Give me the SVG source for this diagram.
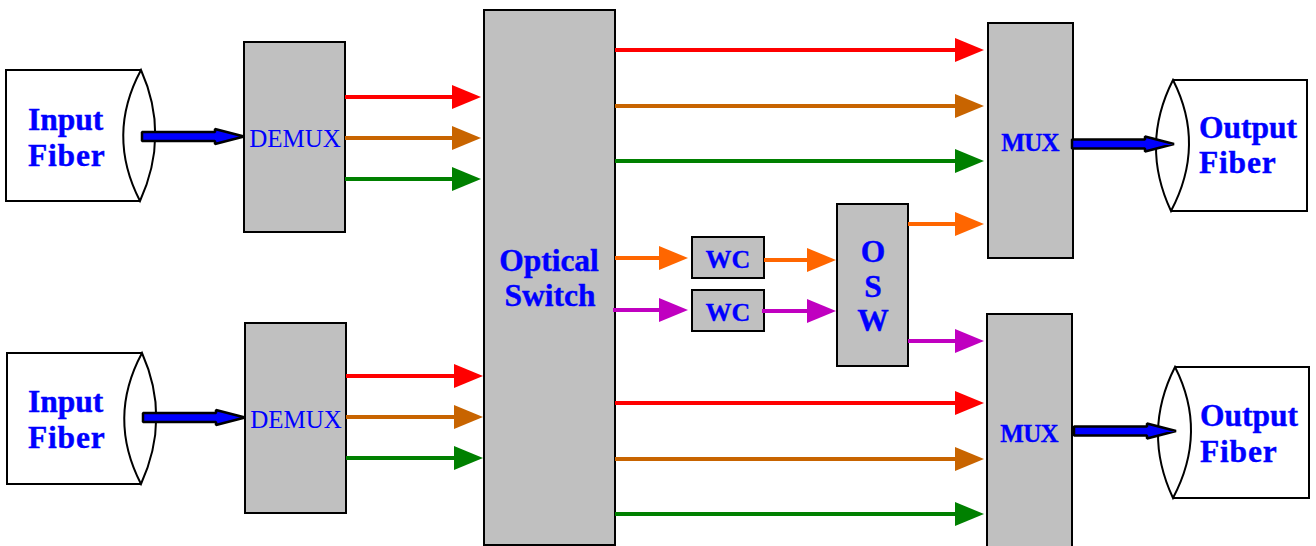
<svg xmlns="http://www.w3.org/2000/svg" width="1316" height="546" viewBox="0 0 1316 546">
<style>
.box{fill:#c0c0c0;stroke:#000;stroke-width:2}
.fiber{fill:#fff;stroke:#000;stroke-width:2}
.lens{fill:none;stroke:#000;stroke-width:2}
.t{font-family:"Liberation Serif","Times New Roman",serif;fill:#0000ff;text-anchor:middle}
.l{text-anchor:start}
.b{font-weight:bold;stroke:#0000ff;stroke-width:.3}
.big{font-size:31.500px;font-weight:bold;stroke:#0000ff;stroke-width:.4}
.w{stroke-width:4;fill:none}
.blue{fill:#0000ff;stroke:#000;stroke-width:2.500;stroke-linejoin:bevel}
.hr{fill:#ff0000}.hb{fill:#c86400}.hg{fill:#008000}.ho{fill:#ff6600}.hm{fill:#c000c0}
.sr{stroke:#ff0000}.sb{stroke:#c86400}.sg{stroke:#008000}.so{stroke:#ff6600}.sm{stroke:#c000c0}
</style>
<defs>
<marker id="r" markerUnits="userSpaceOnUse" markerWidth="30" markerHeight="24" refX="1" refY="12" orient="auto"><path class="hr" d="M0 0L29 12L0 24Z"/></marker>
<marker id="br" markerUnits="userSpaceOnUse" markerWidth="30" markerHeight="24" refX="1" refY="12" orient="auto"><path class="hb" d="M0 0L29 12L0 24Z"/></marker>
<marker id="g" markerUnits="userSpaceOnUse" markerWidth="30" markerHeight="24" refX="1" refY="12" orient="auto"><path class="hg" d="M0 0L29 12L0 24Z"/></marker>
<marker id="o" markerUnits="userSpaceOnUse" markerWidth="30" markerHeight="24" refX="1" refY="12" orient="auto"><path class="ho" d="M0 0L29 12L0 24Z"/></marker>
<marker id="m" markerUnits="userSpaceOnUse" markerWidth="30" markerHeight="24" refX="1" refY="12" orient="auto"><path class="hm" d="M0 0L29 12L0 24Z"/></marker>
<path id="ba" class="blue" d="M0 -4.500H73V-7.500L102 0L73 7.500V4.500H0Z"/>
</defs>

<g id="input-fiber-1">
<path class="fiber" d="M141 70H6V201H140"/>
<path class="lens" d="M141 70Q106 135 140 201Q170 135 141 70Z"/>
<text class="t big l" x="28" y="130">Input</text><text class="t big l" x="28" y="166" letter-spacing=".8">Fiber</text>
</g>
<g id="input-fiber-2">
<path class="fiber" d="M142 353H7V484H141"/>
<path class="lens" d="M142 353Q107 418 141 484Q171 418 142 353Z"/>
<text class="t big l" x="28" y="412">Input</text><text class="t big l" x="28" y="448" letter-spacing=".8">Fiber</text>
</g>
<g id="demux-1"><rect class="box" x="244" y="42" width="101" height="190"/><text class="t" x="295" y="147" font-size="25">DEMUX</text></g>
<g id="demux-2"><rect class="box" x="245" y="323" width="101" height="190"/><text class="t" x="296" y="428" font-size="25">DEMUX</text></g>
<g id="optical-switch"><rect class="box" x="484" y="10" width="131" height="535"/>
<text class="t big" x="549" y="271">Optical</text><text class="t big" x="550" y="306">Switch</text></g>
<g id="wc-1"><rect class="box" x="692" y="237" width="72" height="41"/><text class="t b" x="728" y="268" font-size="26">WC</text></g>
<g id="wc-2"><rect class="box" x="692" y="290" width="72" height="41"/><text class="t b" x="728" y="321" font-size="26">WC</text></g>
<g id="osw"><rect class="box" x="837" y="204" width="71" height="162"/>
<text class="t big" x="873" y="262">O</text><text class="t big" x="873" y="297">S</text><text class="t big" x="873" y="331">W</text></g>
<g id="mux-1"><rect class="box" x="988" y="23" width="85" height="235"/><text class="t b" x="1030" y="151" font-size="25" letter-spacing="-.8">MUX</text></g>
<g id="mux-2"><path class="box" d="M987 546V314H1072V546"/><text class="t b" x="1029" y="442" font-size="25" letter-spacing="-.8">MUX</text></g>
<g id="output-fiber-1">
<path class="fiber" d="M1173 80H1307V211H1171"/>
<path class="lens" d="M1173 80Q1140 145 1171 211Q1206 145 1173 80Z"/>
<text class="t big l" x="1199" y="138">Output</text><text class="t big l" x="1199" y="173" letter-spacing=".8">Fiber</text>
</g>
<g id="output-fiber-2">
<path class="fiber" d="M1175 367H1309V498H1173"/>
<path class="lens" d="M1175 367Q1142 432 1173 498Q1208 432 1175 367Z"/>
<text class="t big l" x="1200" y="426">Output</text><text class="t big l" x="1200" y="462" letter-spacing=".8">Fiber</text>
</g>

<g id="connectors">
<use href="#ba" x="142" y="136.500"/>
<use href="#ba" x="143" y="417.500"/>
<use href="#ba" x="1072" y="144"/>
<use href="#ba" x="1074" y="431"/>
<path class="w sr" marker-end="url(#r)" d="M345 97H453"/>
<path class="w sb" marker-end="url(#br)" d="M345 138H453"/>
<path class="w sg" marker-end="url(#g)" d="M345 179H453"/>
<path class="w sr" marker-end="url(#r)" d="M346 376H455"/>
<path class="w sb" marker-end="url(#br)" d="M346 417H455"/>
<path class="w sg" marker-end="url(#g)" d="M346 458H455"/>
<path class="w sr" marker-end="url(#r)" d="M615 50H956"/>
<path class="w sb" marker-end="url(#br)" d="M615 106H956"/>
<path class="w sg" marker-end="url(#g)" d="M615 161H956"/>
<path class="w so" marker-end="url(#o)" d="M615 258H660"/>
<path class="w sm" marker-end="url(#m)" d="M613 310H660"/>
<path class="w so" marker-end="url(#o)" d="M764 260H808"/>
<path class="w sm" marker-end="url(#m)" d="M762 311H808"/>
<path class="w so" marker-end="url(#o)" d="M908 224H956"/>
<path class="w sm" marker-end="url(#m)" d="M908 341H956"/>
<path class="w sr" marker-end="url(#r)" d="M615 403H956"/>
<path class="w sb" marker-end="url(#br)" d="M615 459H956"/>
<path class="w sg" marker-end="url(#g)" d="M615 514H956"/>
</g>
</svg>
